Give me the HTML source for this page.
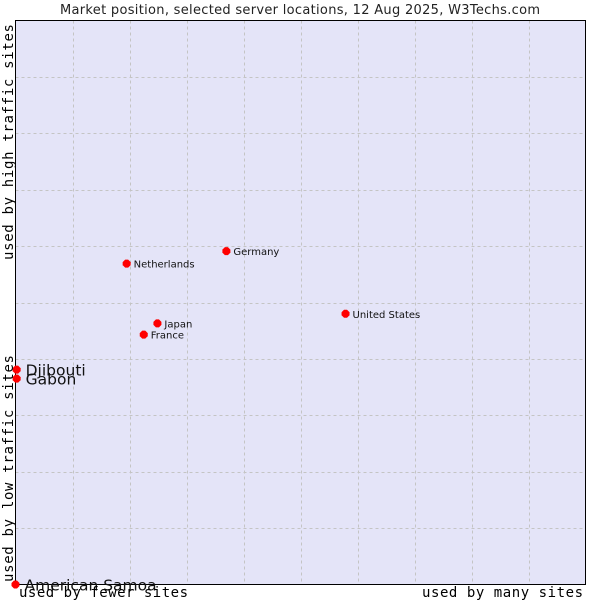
<!DOCTYPE html>
<html><head><meta charset="utf-8"><style>
body{margin:0;background:#fff;}
svg{display:block;}
</style></head><body>
<svg id="chart" width="600" height="600" xmlns="http://www.w3.org/2000/svg">
<text x="300" y="14" text-anchor="middle" font-family="DejaVu Sans, sans-serif" font-size="13" textLength="480" fill="#222">Market position, selected server locations, 12 Aug 2025, W3Techs.com</text>
<rect x="15.5" y="20.5" width="570" height="564" fill="#e4e4f8" stroke="#000"/>
<g id="grid"></g>
<rect x="15.5" y="20.5" width="570" height="564" fill="none" stroke="#000"/>
<g id="points"></g>
<text x="19" y="597" font-family="DejaVu Sans Mono, Liberation Mono, monospace" font-size="14" textLength="169" fill="#000">used by fewer sites</text>
<text x="583" y="597" text-anchor="end" font-family="DejaVu Sans Mono, Liberation Mono, monospace" font-size="14" textLength="161" fill="#000">used by many sites</text>
<text transform="translate(13,582) rotate(-90)" font-family="DejaVu Sans Mono, Liberation Mono, monospace" font-size="14" textLength="227" fill="#000">used by low traffic sites</text>
<text transform="translate(13,260) rotate(-90)" font-family="DejaVu Sans Mono, Liberation Mono, monospace" font-size="14" textLength="236" fill="#000">used by high traffic sites</text>
</svg>
<script>
const names=["Germany","Netherlands","United States","Japan","France","Djibouti","Gabon","American Samoa"];
const xValues=[37.0,19.5,57.9,24.9,22.5,0.2,0.2,0];
const yValues=[59.1,56.9,48.0,46.3,44.3,38.1,36.5,0];
const bigLabel=[false,false,false,false,false,true,true,true];
const NS="http://www.w3.org/2000/svg";
const X0=15.5,X1=585.5,Y0=584.5,Y1=20.5;
const xs=v=>X0+(X1-X0)*v/100;
const ys=v=>Y0-(Y0-Y1)*v/100;
const grid=document.getElementById('grid');
for(let i=1;i<10;i++){
  const l=document.createElementNS(NS,'line');
  
  
  const x=Math.round(xs(i*10))+0.5;
  l.setAttribute('x1',x);l.setAttribute('x2',x);l.setAttribute('y1',Y1);l.setAttribute('y2',Y0);
  l.setAttribute('stroke','#c4c4c4');l.setAttribute('stroke-dasharray','3,3');
  grid.appendChild(l);
  const h=document.createElementNS(NS,'line');
  
  
  const y=Math.round(ys(i*10))+0.5;
  h.setAttribute('x1',X0);h.setAttribute('x2',X1);h.setAttribute('y1',y);h.setAttribute('y2',y);
  h.setAttribute('stroke','#c4c4c4');h.setAttribute('stroke-dasharray','3,3');
  grid.appendChild(h);
}
const pts=document.getElementById('points');
names.forEach((n,i)=>{
  const cx=xs(xValues[i]),cy=ys(yValues[i]);
  const c=document.createElementNS(NS,'polygon');
  
  
  c.setAttribute('points',`${cx-4},${cy-1.5} ${cx-1.5},${cy-4} ${cx+1.5},${cy-4} ${cx+4},${cy-1.5} ${cx+4},${cy+1.5} ${cx+1.5},${cy+4} ${cx-1.5},${cy+4} ${cx-4},${cy+1.5}`);
  c.setAttribute('fill','#f00');
  pts.appendChild(c);
  const t=document.createElementNS(NS,'text');
  
  
  t.setAttribute('x',cx+(bigLabel[i]?9:7));
  t.setAttribute('y',cy+(bigLabel[i]?6:4));
  t.setAttribute('font-family','DejaVu Sans, sans-serif');
  t.setAttribute('font-size',bigLabel[i]?'15.5':'10');
  t.setAttribute('fill','#111');
  t.textContent=n;
  pts.appendChild(t);
});
</script>
</body></html>
